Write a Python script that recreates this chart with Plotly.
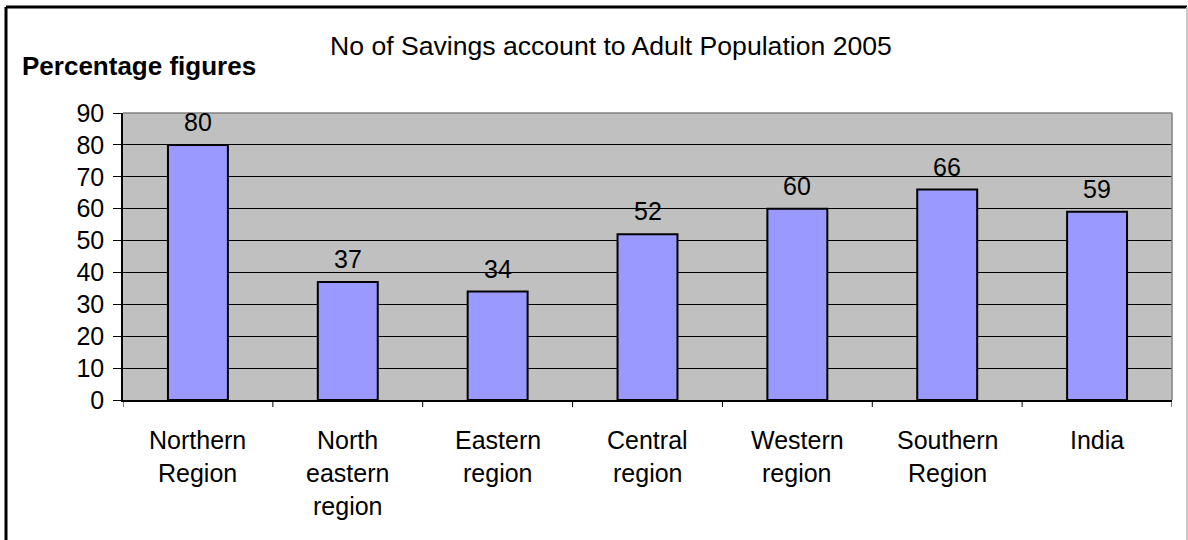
import plotly.graph_objects as go

categories = ["Northern Region", "North eastern region", "Eastern region",
              "Central region", "Western region", "Southern Region", "India"]
label_lines = [["Northern", "Region"], ["North", "eastern", "region"], ["Eastern", "region"],
               ["Central", "region"], ["Western", "region"], ["Southern", "Region"], ["India"]]
values = [80, 37, 34, 52, 60, 66, 59]
y_ticks = [0, 10, 20, 30, 40, 50, 60, 70, 80, 90]

FONT = "Liberation Sans, Arial, sans-serif"
FS = 25
W, H = 1188, 540
L, R, T, B = 123, 16, 113, 140
PW = W - L - R
PH = H - T - B

fig = go.Figure()
fig.add_trace(go.Bar(
    x=categories, y=values, width=0.4,
    marker=dict(color="#9999FF", line=dict(color="black", width=2)),
    hoverinfo="x+y",
))

annotations = []
# data labels
for cat, v in zip(categories, values):
    annotations.append(dict(
        x=cat, xref="x", y=v, yref="y", yshift=23,
        text=str(v), showarrow=False,
        font=dict(family=FONT, size=FS, color="black"),
        xanchor="center", yanchor="middle",
    ))
# category labels
for cat, lines in zip(categories, label_lines):
    for i, ln in enumerate(lines):
        annotations.append(dict(
            x=cat, xref="x", y=0, yref="y", yshift=-39.5 - 33 * i,
            text=ln, showarrow=False,
            font=dict(family=FONT, size=FS, color="black"),
            xanchor="center", yanchor="middle",
        ))

annotations.append(dict(
    x=(611 - L) / PW, xref="paper", y=(T - 46) / PH + 1, yref="paper",
    text="No of Savings account to Adult Population 2005", showarrow=False,
    font=dict(family=FONT, size=26.6, color="black"), xanchor="center", yanchor="middle",
))
annotations.append(dict(
    x=(20 - L) / PW, xref="paper", y=(T - 66) / PH + 1, yref="paper",
    text="<b>Percentage figures</b>", showarrow=False,
    font=dict(family=FONT, size=26, color="black"), xanchor="left", yanchor="middle",
))

shapes = [
    # figure border: top & left black, right grey
    dict(type="line", xref="paper", yref="paper",
         x0=(6 - L) / PW, x1=(1187 - L) / PW, y0=1 + (T - 7) / PH, y1=1 + (T - 7) / PH,
         line=dict(color="black", width=3)),
    dict(type="line", xref="paper", yref="paper",
         x0=(6 - L) / PW, x1=(6 - L) / PW, y0=1 + (T - 7) / PH, y1=-(B + 5) / PH,
         line=dict(color="black", width=3)),
    dict(type="line", xref="paper", yref="paper",
         x0=(1187 - L) / PW, x1=(1187 - L) / PW, y0=1 + (T - 7) / PH, y1=-(B + 5) / PH,
         line=dict(color="#C8C8C8", width=2)),
    # plot area top/right border
    dict(type="line", xref="paper", yref="paper", x0=0, x1=1, y0=1, y1=1,
         line=dict(color="#808080", width=1.5)),
    dict(type="line", xref="paper", yref="paper", x0=1, x1=1, y0=0, y1=1,
         line=dict(color="#808080", width=1.5)),
]
# category separator ticks below x axis
for k in range(len(categories) + 1):
    shapes.append(dict(type="line", xref="x", yref="paper",
                       x0=k - 0.5, x1=k - 0.5, y0=0, y1=-7 / PH,
                       line=dict(color="black", width=1)))

fig.update_layout(
    width=W, height=H,
    margin=dict(l=L, r=R, t=T, b=B, pad=0),
    paper_bgcolor="white", plot_bgcolor="#C0C0C0",
    showlegend=False,
    font=dict(family=FONT, size=FS, color="black"),
    xaxis=dict(type="category", range=[-0.5, len(categories) - 0.5],
               showticklabels=False, ticks="", showgrid=False, zeroline=False,
               showline=True, linecolor="black", linewidth=1.5, fixedrange=True),
    yaxis=dict(range=[0, 90], tickvals=y_ticks, ticktext=[str(t) for t in y_ticks],
               ticks="outside", ticklen=8, tickcolor="black", tickwidth=1,
               ticklabelstandoff=4,
               showgrid=True, gridcolor="black", gridwidth=1, zeroline=False,
               showline=True, linecolor="black", linewidth=1.5,
               tickfont=dict(family=FONT, size=FS, color="black"), fixedrange=True),
    annotations=annotations, shapes=shapes,
    bargap=0.6,
)

fig.write_html("out.html")
